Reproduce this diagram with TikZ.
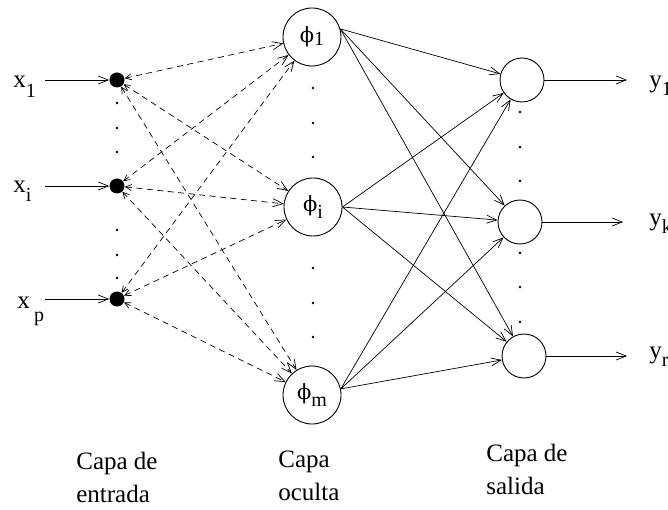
\documentclass[tikz,border=0pt]{standalone}
\usepackage{fontspec}
\setmainfont{Liberation Serif}
\newfontfamily\greekfont{DejaVu Serif}
\usetikzlibrary{arrows.meta}
% lowered subscript: #1 drop, #2 size, #3 text
\newcommand\lowsub[3]{\raisebox{-#1}{\fontsize{#2}{#2}\selectfont #3}}
\newcommand\phisym{{\greekfont\fontsize{21}{24}\selectfont\symbol{"03D5}}}
\begin{document}
\begin{tikzpicture}[x=1pt,y=-1pt,
  line width=0.7pt,
  headtip/.tip={Straight Barb[length=10pt,width=8pt,line width=0.7pt]},
  tailtip/.tip={Straight Barb[length=6pt,width=6pt,line width=0.7pt]},
  arr/.style={-headtip},
  dlink/.style={tailtip-headtip,dash pattern=on 6pt off 4.5pt},
  hidn/.style={circle,draw,line width=0.9pt,minimum size=58pt,inner sep=0pt},
  outn/.style={circle,draw,line width=0.9pt,minimum size=44pt,inner sep=0pt},
  inpn/.style={circle,fill,minimum size=15pt,inner sep=0pt},
  vdot/.style={circle,fill,minimum size=2.6pt,inner sep=0pt},
  lbl/.style={font=\fontsize{25}{28}\selectfont,inner sep=0pt,anchor=base west},
  phil/.style={font=\fontsize{25}{28}\selectfont,inner sep=0pt},
  capt/.style={font=\fontsize{25}{33}\selectfont,align=left,inner sep=0pt,anchor=base west}
]
\clip (0,0) rectangle (668,510);

% input layer
\node[inpn] (d1) at (117,80) {};
\node[inpn] (di) at (117,186) {};
\node[inpn] (dp) at (117,299) {};
\foreach \yy/\nm in {103/a,128/b,152/c,230/d,255/e,278/f}
  \node[vdot] (iv\nm) at (117,\yy) {};

\node[lbl] (x1) at (13,88) {x\lowsub{10pt}{20}{1}};
\node[lbl] (xi) at (13,193) {x\lowsub{9pt}{20}{i}};
\node[lbl] (xp) at (17,308) {x\,\lowsub{13pt}{20}{p}};
\coordinate (s1) at (45,80);
\coordinate (si) at (45,186);
\coordinate (sp) at (45,299);
\draw[arr] (s1) -- (d1);
\draw[arr] (si) -- (di);
\draw[arr] (sp) -- (dp);

% hidden layer
\node[hidn] (h1) at (312,37) {};
\node[hidn] (hi) at (313,207) {};
\node[hidn] (hm) at (312,395) {};
\node[phil] (p1) at (h1) {\phisym\lowsub{3pt}{20}{1}};
\node[phil] (pi) at (hi) {\phisym\lowsub{7pt}{20}{i}};
\node[phil] (pm) at (hm) {\phisym\lowsub{7pt}{20}{m}};
\foreach \yy/\nm in {88/a,123/b,157/c,268/d,303/e,337/f}
  \node[vdot] (hv\nm) at (313,\yy) {};

% output layer
\node[outn] (o1) at (522,80) {};
\node[outn] (oj) at (520,222) {};
\node[outn] (or) at (524,356) {};
\foreach \yy/\nm in {112/a,147/b,181/c,253/d,287/e,322/f}
  \node[vdot] (ov\nm) at (520,\yy) {};

\coordinate (e1) at (627,80);
\coordinate (ej) at (623,222);
\coordinate (er) at (627,356);
\draw[arr] (o1) -- (e1);
\draw[arr] (oj) -- (ej);
\draw[arr] (or) -- (er);
\node[lbl] (y1) at (649,88) {y\lowsub{8pt}{20}{1}};
\node[lbl] (yj) at (649,226) {y\lowsub{8pt}{20}{k}};
\node[lbl] (yr) at (649,358) {y\lowsub{8pt}{20}{r}};

% dashed links input -> hidden
\foreach \d in {d1,di,dp}
  \foreach \h in {h1,hi,hm}
    \draw[dlink] (\d) -- (\h);

% solid links hidden -> output
\foreach \o in {o1,oj,or} {
  \draw[arr] (h1.16) -- (\o);
  \draw[arr] (hi.east) -- (\o);
  \draw[arr] (hm.12) -- (\o);
}

% layer captions (anchored on the second line's baseline)
\node[capt] (c1) at (76,502) {Capa de\\entrada};
\node[capt] (c2) at (278,500) {Capa\\oculta};
\node[capt] (c3) at (486,494) {Capa de\\salida};
\end{tikzpicture}
\end{document}
